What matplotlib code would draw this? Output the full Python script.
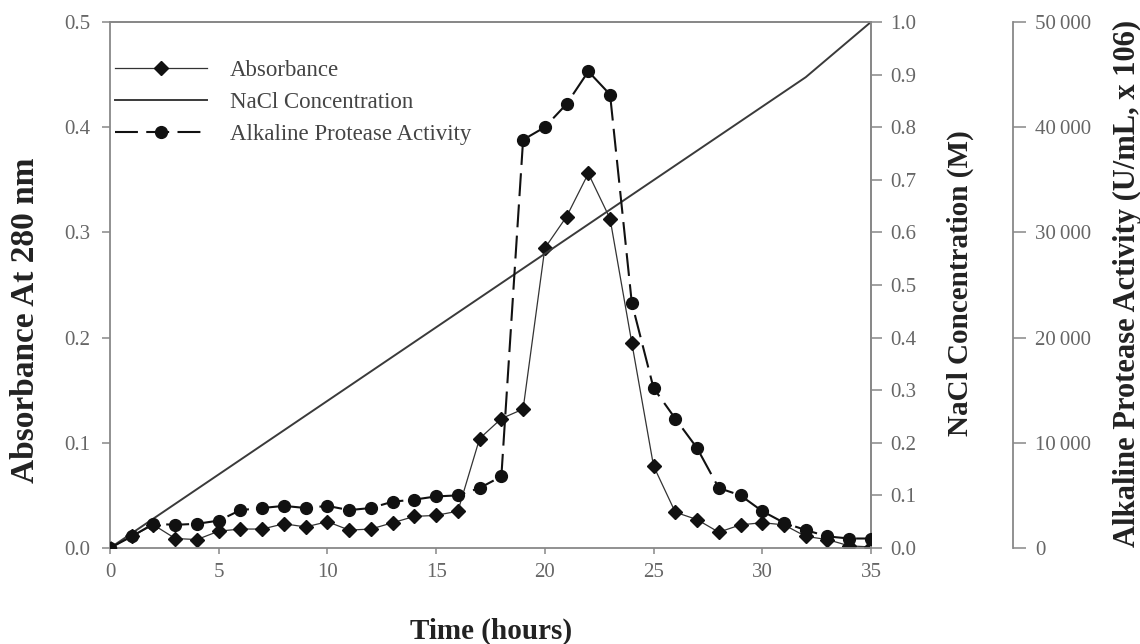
import matplotlib
matplotlib.use("Agg")
import matplotlib.pyplot as plt
from matplotlib.ticker import MultipleLocator, FuncFormatter

# Data (one point per hour)
hours = list(range(36))
absorbance = [0.000, 0.011, 0.022, 0.009, 0.008, 0.016, 0.018, 0.018, 0.023, 0.020,
              0.025, 0.017, 0.018, 0.024, 0.030, 0.031, 0.035, 0.104, 0.123, 0.132,
              0.285, 0.315, 0.356, 0.313, 0.195, 0.078, 0.034, 0.027, 0.015, 0.022,
              0.024, 0.022, 0.011, 0.008, 0.002, 0.001]
activity = [0, 1100, 2300, 2200, 2300, 2600, 3600, 3800, 4000, 3800,
            4000, 3600, 3800, 4400, 4600, 4900, 5000, 5700, 6800, 38800,
            40000, 42200, 45300, 43100, 23300, 15200, 12300, 9500, 5700, 5000,
            3500, 2400, 1700, 1100, 900, 900]
nacl_hours = [0, 32, 35]
nacl = [0.0, 0.895, 1.0]

SERIF = ['Liberation Serif', 'DejaVu Serif']
plt.rcParams['font.family'] = SERIF
TICK_COLOR = '#666666'
SPINE_COLOR = '#888888'
LABEL_COLOR = '#222222'

fig = plt.figure(figsize=(11.4, 6.44), dpi=100)
fig.patch.set_facecolor('white')
ax = fig.add_axes([0.0965, 0.1491, 0.6675, 0.8168])
ax2 = ax.twinx()
ax3 = ax.twinx()

# Absorbance (left axis)
l_abs, = ax.plot(hours, absorbance, color='#333333', lw=0.9, marker='D', ms=7,
                 mfc='#111111', mec='#111111', label='Absorbance')
ax.set_xlim(0, 35)
ax.set_ylim(0, 0.5)
ax.xaxis.set_major_locator(MultipleLocator(5))
ax.yaxis.set_major_locator(MultipleLocator(0.1))
ax.yaxis.set_major_formatter(FuncFormatter(lambda v, p: f'{v:.1f}'))

# NaCl concentration (right axis)
l_nacl, = ax2.plot(nacl_hours, nacl, color='#3a3a3a', lw=1.4, label='NaCl Concentration')
ax2.set_ylim(0, 1.0)
ax2.yaxis.set_major_locator(MultipleLocator(0.1))
ax2.yaxis.set_major_formatter(FuncFormatter(lambda v, p: f'{v:.1f}'))

# Alkaline protease activity (offset right axis)
l_act, = ax3.plot(hours, activity, color='#111111', lw=1.5, dashes=(11, 4),
                  marker='o', ms=8.5, mfc='#111111', mec='#111111',
                  label='Alkaline Protease Activity')
ax3.set_ylim(0, 50000)
ax3.yaxis.set_major_locator(MultipleLocator(10000))
ax3.yaxis.set_major_formatter(FuncFormatter(lambda v, p: f'{int(v):,}'.replace(',', '\u2009')))
ax3.spines['right'].set_position(('axes', (1013 - 110) / 761))
for s in ['top', 'left', 'bottom']:
    ax3.spines[s].set_visible(False)
for s in ['left', 'bottom']:
    ax2.spines[s].set_visible(False)

for a in (ax, ax2, ax3):
    for s in a.spines.values():
        s.set_color(SPINE_COLOR)
        s.set_linewidth(1.3)
    a.tick_params(colors=SPINE_COLOR, labelcolor=TICK_COLOR, labelsize=15, width=1.1)

ax.tick_params(axis='x', direction='out', length=4, pad=7)
ax.tick_params(axis='y', direction='out', length=6, pad=8)
ax2.tick_params(axis='y', direction='out', length=8, pad=6)
ax3.tick_params(axis='y', direction='out', length=9, pad=7)

# Axis titles
fig.text(491 / 1140, 1 - 631 / 644, 'Time (hours)', ha='center', va='center',
         fontsize=21, fontweight='bold', color=LABEL_COLOR)
fig.text(26 / 1140, 1 - 320 / 644, 'Absorbance At 280 nm', ha='center', va='center',
         rotation=90, fontsize=24, fontweight='bold', color=LABEL_COLOR)
fig.text(960 / 1140, 1 - 283 / 644, 'NaCl Concentration (M)', ha='center', va='center',
         rotation=90, fontsize=21, fontweight='bold', color=LABEL_COLOR)
fig.text(1127 / 1140, 1 - 283 / 644, 'Alkaline Protease Activity (U/mL, x 106)',
         ha='center', va='center', rotation=90, fontsize=22, fontweight='bold',
         color=LABEL_COLOR)

leg = ax.legend(handles=[l_abs, l_nacl, l_act], loc='upper left',
                bbox_to_anchor=((115 - 110) / 761, (548 - 60) / 526),
                frameon=False, fontsize=16.5, handlelength=4.0, handletextpad=1.0,
                labelspacing=0.47, borderpad=0, borderaxespad=0, numpoints=1)
for t in leg.get_texts():
    t.set_color('#444444')

fig.savefig('out.png', dpi=100, facecolor='white')
